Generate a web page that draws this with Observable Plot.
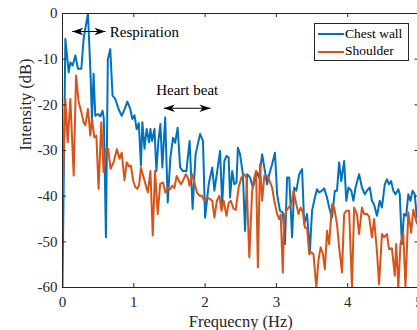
<!DOCTYPE html>
<html>
<head>
<meta charset="utf-8">
<script src="https://cdn.jsdelivr.net/npm/d3@7"></script>
<script src="https://cdn.jsdelivr.net/npm/@observablehq/plot@0.6"></script>
<style>
html, body { margin: 0; padding: 0; overflow: hidden; background: white; }
#wrap { position: relative; width: 420px; height: 330px; }
#legend { position: absolute; left: 314px; top: 23px; width: 95px; height: 38px; box-sizing: border-box;
  border: 1px solid #262626; background: white; font-family: "Liberation Serif", "Times New Roman", serif; font-size: 13.5px; color: #000; }
#legend .ln { position: absolute; left: 3px; width: 26px; height: 2px; }
#legend .lb { position: absolute; left: 30px; line-height: 14px; white-space: nowrap; }
</style>
</head>
<body>
<div id="wrap"></div>
<script>
// ---- data ----
const seriesNames = ["Chest wall", "Shoulder"];
const seriesColors = ["#0072BD", "#D95319"];

const chestFreq = [0,0.04,0.087,0.11,0.143,0.18,0.217,0.264,0.296,0.32,0.357,0.394,0.413,0.436,0.46,0.497,0.53,0.562,0.58,0.609,0.636,0.67,0.702,0.74,0.786,0.83,0.87,0.91,0.95,0.98,1.01,1.04,1.07,1.1,1.12,1.15,1.18,1.215,1.233,1.257,1.29,1.317,1.345,1.373,1.4,1.44,1.476,1.513,1.55,1.58,1.615,1.65,1.685,1.737,1.783,1.825,1.867,1.93,1.97,2.0,2.05,2.1,2.13,2.17,2.21,2.24,2.27,2.3,2.33,2.35,2.38,2.41,2.44,2.46,2.49,2.53,2.56,2.59,2.63,2.67,2.7,2.73,2.76,2.8,2.83,2.87,2.9,2.94,2.98,3.01,3.05,3.09,3.12,3.15,3.18,3.22,3.25,3.28,3.32,3.36,3.39,3.43,3.47,3.5,3.54,3.57,3.6,3.64,3.67,3.71,3.74,3.78,3.82,3.85,3.88,3.91,3.95,3.98,4.01,4.05,4.08,4.11,4.16,4.2,4.24,4.27,4.31,4.34,4.37,4.41,4.45,4.48,4.52,4.55,4.58,4.61,4.64,4.67,4.71,4.73,4.76,4.79,4.82,4.85,4.88,4.91,4.94,4.97,5.0];
const chestDb = [-60,-5.6,-12.9,-10.7,-11.4,-9.2,-12.1,-12.1,-5.6,-3.3,0,-13.6,-23.1,-13.2,-22.4,-22.0,-22.5,-21.3,-23.1,-49,-10,-7.8,-18,-18.7,-20.9,-22.4,-21.0,-19.3,-20.9,-23.1,-22.3,-25.3,-24.0,-33.3,-23.8,-29.6,-25.3,-28.2,-25.3,-27.9,-25.3,-34.5,-27.9,-24.2,-33.7,-22.8,-41.4,-31.5,-27.2,-28.3,-25,-33.7,-34.5,-34.5,-27.9,-42.8,-30.8,-26.4,-27.9,-44.7,-37.4,-33.7,-38.8,-34.5,-30.1,-41.8,-32.3,-31.2,-31.5,-40.3,-34.5,-37.4,-37.0,-29.4,-30.8,-35.2,-47.6,-35.2,-35.9,-38.1,-36.5,-34.8,-36.0,-30.8,-33.7,-37.4,-35.2,-33,-30.5,-39.6,-43.2,-43.6,-50.5,-35.9,-35.9,-49,-38.1,-38.8,-35.2,-34.1,-46.1,-43.9,-52,-43.2,-40.3,-38.5,-39.2,-38.8,-38.3,-40.3,-42.5,-44.7,-38.8,-38.8,-32.6,-36.7,-32.3,-41,-38.1,-38.8,-41,-38.1,-35.2,-38.1,-39.6,-38.8,-38.1,-41,-41.8,-44.3,-41,-42.5,-37.4,-36.3,-37.4,-36.7,-38.8,-39.6,-38.5,-39.6,-50.5,-43.9,-44.3,-39.6,-41,-38.8,-39.6,-44.7,-40];

const shoulderFreq = [0,0.04,0.073,0.11,0.157,0.19,0.227,0.264,0.296,0.32,0.357,0.39,0.413,0.446,0.475,0.506,0.544,0.576,0.608,0.64,0.674,0.716,0.762,0.8,0.83,0.87,0.9,0.935,0.96,0.99,1.02,1.05,1.075,1.1,1.14,1.17,1.197,1.233,1.266,1.298,1.336,1.37,1.41,1.443,1.476,1.51,1.54,1.57,1.6,1.63,1.66,1.69,1.73,1.76,1.78,1.82,1.85,1.887,1.92,1.955,1.99,2.03,2.065,2.1,2.13,2.165,2.2,2.23,2.26,2.3,2.33,2.36,2.4,2.43,2.47,2.51,2.55,2.58,2.62,2.66,2.69,2.715,2.74,2.77,2.8,2.83,2.87,2.9,2.94,2.97,3.01,3.04,3.06,3.09,3.11,3.14,3.17,3.21,3.24,3.28,3.31,3.34,3.37,3.4,3.43,3.46,3.49,3.52,3.56,3.59,3.62,3.65,3.68,3.71,3.74,3.78,3.81,3.85,3.88,3.92,3.95,3.98,4.02,4.06,4.09,4.13,4.16,4.2,4.23,4.27,4.3,4.34,4.37,4.41,4.44,4.48,4.51,4.55,4.58,4.62,4.66,4.68,4.71,4.74,4.78,4.81,4.85,4.89,4.92,4.97,5.0];
const shoulderDb = [-40.6,-18.7,-28.2,-18.7,-35.5,-13.6,-19.4,-21.6,-23.8,-24.5,-20.9,-26.7,-23.1,-27.1,-26.8,-38.4,-23.8,-34.7,-29.7,-29.6,-34,-32.6,-29.7,-31.8,-30.5,-36.5,-32.6,-33.5,-33.3,-36.5,-38.0,-38.4,-37.5,-33.7,-36.0,-37.7,-39.2,-34.5,-48.6,-34.5,-43.9,-37.3,-37.0,-39.2,-38.1,-38.5,-37.7,-38.2,-35.6,-36.5,-37.4,-36.6,-35.2,-36.0,-37.7,-35.2,-37.0,-39.2,-39.9,-39.9,-41,-40.3,-40.6,-41,-44.7,-41.0,-39.9,-43.2,-41,-44.3,-41.5,-41,-42.8,-43.0,-38.1,-35.9,-35.2,-36.0,-53.4,-38.8,-35.9,-34.5,-55.6,-33,-41,-35.6,-35.6,-36.5,-38.1,-41,-43.9,-45,-44,-56.7,-44.7,-43.2,-42.5,-41.8,-38.8,-41.8,-43.9,-42.5,-43.5,-46.9,-46.9,-52.7,-52.3,-52.7,-60,-54,-51.2,-52.5,-56,-47.6,-50.5,-41.8,-42.5,-46.1,-51.2,-56.7,-43.9,-43.2,-43.2,-60,-42.5,-44.0,-48.3,-42.5,-43.9,-43.9,-44.5,-49,-45,-52,-59.3,-48.3,-49.0,-48.3,-51.6,-51.4,-57.4,-50.5,-60,-50.5,-48.3,-60,-43.5,-48,-43,-46,-45];

const xTicks = [0, 1, 2, 3, 4, 5];
const yTicks = [-60, -50, -40, -30, -20, -10, 0];
const xLabel = "Frequecny (Hz)";
const yLabel = "Intensity (dB)";

// annotations (data coordinates)
const arrowSpans = [
  {x1: 0.136, x2: 0.603, y: -3.95},
  {x1: 1.421, x2: 2.076, y: -20.75}
];
const notes = [
  {x: 0.663, y: -4.1, text: "Respiration"},
  {x: 1.314, y: -16.9, text: "Heart beat"}
];

// ---- build ----
const chest = chestFreq.map((f, i) => ({f, db: chestDb[i]}));
const shoulder = shoulderFreq.map((f, i) => ({f, db: shoulderDb[i]}));

function head(dir) {
  return {
    draw(context, size) {
      const r = Math.sqrt(size / Math.PI);
      const L = r, W = r * 0.34, N = r * 0.72;
      context.moveTo(0, 0);
      context.lineTo(-dir * L, -W);
      context.lineTo(-dir * N, 0);
      context.lineTo(-dir * L, W);
      context.closePath();
    }
  };
}

const axisColor = "#262626";
const plot = Plot.plot({
  width: 420,
  height: 330,
  marginLeft: 62,
  marginRight: 1.5,
  marginTop: 13,
  marginBottom: 43,
  x: {domain: [0, 5]},
  y: {domain: [-60, 0]},
  style: {fontFamily: "Liberation Serif, Times New Roman, serif", fontSize: "15px", color: axisColor, background: "white", maxWidth: "none", overflow: "visible"},
  marks: [
    Plot.line(chest, {x: "f", y: "db", stroke: seriesColors[0], strokeWidth: 2, clip: true}),
    Plot.line(shoulder, {x: "f", y: "db", stroke: seriesColors[1], strokeWidth: 2, clip: true}),
    Plot.frame({stroke: axisColor, strokeWidth: 1}),
    Plot.tickX(xTicks, {x: d => d, insetTop: 270, stroke: axisColor}),
    Plot.tickX(xTicks, {x: d => d, insetBottom: 270, stroke: axisColor}),
    Plot.tickY(yTicks, {y: d => d, insetRight: 352.5, stroke: axisColor}),
    Plot.tickY(yTicks, {y: d => d, insetLeft: 352.5, stroke: axisColor}),
    Plot.axisX(xTicks, {tickSize: 0, tickPadding: 9, tickFormat: d => String(d), label: null}),
    Plot.axisY(yTicks, {tickSize: 0, tickPadding: 5, tickFormat: d => String(d), label: null}),
    Plot.text([xLabel], {frameAnchor: "bottom", dy: 34, fontSize: 16.5, fill: axisColor, lineAnchor: "middle"}),
    Plot.text([yLabel], {frameAnchor: "left", dx: -37, rotate: -90, fontSize: 16.5, fill: axisColor, lineAnchor: "middle"}),
    Plot.link(arrowSpans, {x1: "x1", x2: "x2", y1: "y", y2: "y", stroke: "black", strokeWidth: 1.1}),
    Plot.dot(arrowSpans, {x: "x2", y: "y", symbol: head(1), r: 11, fill: "black", stroke: null}),
    Plot.dot(arrowSpans, {x: "x1", y: "y", symbol: head(-1), r: 11, fill: "black", stroke: null}),
    Plot.text(notes, {x: "x", y: "y", text: "text", textAnchor: "start", lineAnchor: "middle", fill: "black", fontSize: 15})
  ]
});

const wrap = document.getElementById("wrap");
wrap.appendChild(plot);

const legend = document.createElement("div");
legend.id = "legend";
seriesNames.forEach((name, i) => {
  const cy = i === 0 ? 10 : 27.5;
  const ln = document.createElement("div");
  ln.className = "ln";
  ln.style.top = (cy - 1) + "px";
  ln.style.background = seriesColors[i];
  const lb = document.createElement("div");
  lb.className = "lb";
  lb.style.top = (cy - 7.5) + "px";
  lb.textContent = name;
  legend.appendChild(ln);
  legend.appendChild(lb);
});
wrap.appendChild(legend);
</script>
</body>
</html>
